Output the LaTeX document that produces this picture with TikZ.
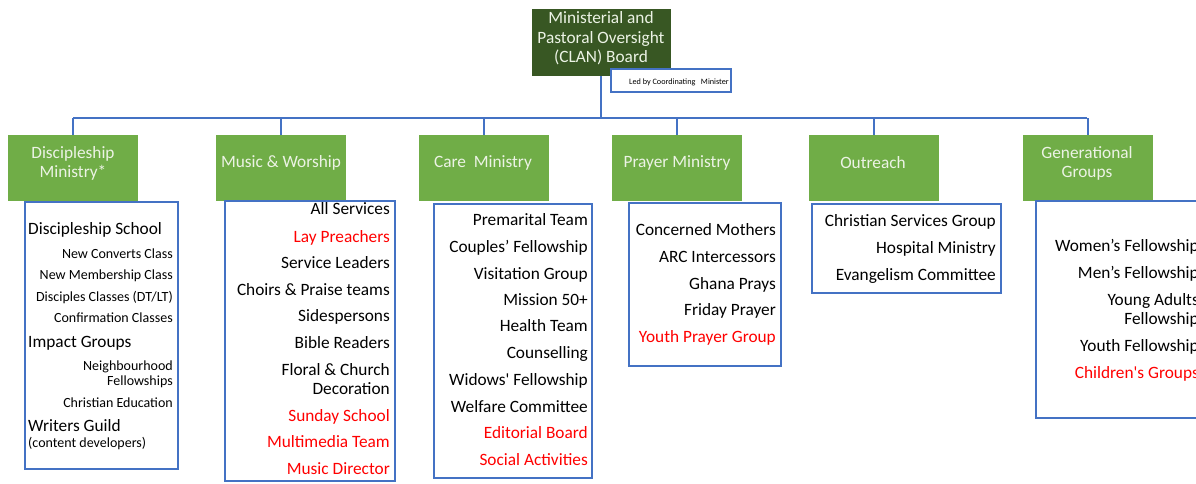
\documentclass[tikz,border=0pt]{standalone}
\usepackage{fontspec}
\setmainfont{Carlito}
\usepackage{tikz}
\usetikzlibrary{positioning}
\usetikzlibrary{calc}

\definecolor{boardgreen}{RGB}{56,87,35}
\definecolor{hdrgreen}{RGB}{112,173,71}
\definecolor{hdrtext}{RGB}{236,243,229}
\definecolor{linkblue}{RGB}{68,114,196}
\definecolor{itemred}{RGB}{255,0,0}

\begin{document}
\begin{tikzpicture}[x=1pt,y=-1pt,
  hdr/.style={fill=hdrgreen, minimum width=130pt, minimum height=66pt, inner sep=0pt},
  hdrtxt/.style={text=hdrtext, align=center, inner sep=0pt, font=\fontsize{17.3}{19}\selectfont},
  listbox/.style={draw=linkblue, line width=1.5pt, fill=white, anchor=north west, inner sep=0pt},
  big/.style={inner sep=0pt, align=right, font=\fontsize{17.3}{19}\selectfont},
  small/.style={inner sep=0pt, align=right, font=\fontsize{14}{15}\selectfont},
  red/.style={text=itemred},
  link/.style={draw=linkblue, line width=2pt}]
\useasboundingbox (0,0) rectangle (1196,483);

% board
\node (board) [fill=boardgreen, minimum width=139pt, minimum height=67pt, inner sep=0pt] at (601.5,42.5) {};
\node (boardtxt) [hdrtxt] at (601,38.5) {Ministerial and\\[0.5pt]Pastoral Oversight\\[0.5pt](CLAN) Board};
\node (led) [draw=linkblue, line width=1.5pt, fill=white, minimum width=120pt, minimum height=23pt, inner sep=0pt] at (671,80.5) {};
\node (ledtxt) [anchor=base east, inner sep=0pt, font=\fontsize{8.2}{9}\selectfont] at (729,84) {Led by Coordinating\ \ \ Minister};

% headers
\node (dis) [hdr] at (73,168) {};
\node (mus) [hdr, right=78pt of dis] {};
\node (car) [hdr, right=72pt of mus] {};
\node (pra) [hdr, right=63pt of car] {};
\node (out) [hdr, right=66pt of pra] {};
\node (gen) [hdr, right=84pt of out] {};

\node (distxt) [hdrtxt] at (73,163) {Discipleship\\Ministry*};
\node (mustxt) [hdrtxt] at (281,163) {Music \& Worship};
\node (cartxt) [hdrtxt] at (483,163) {Care\ \ Ministry};
\node (pratxt) [hdrtxt] at (677,163) {Prayer Ministry};
\node (outtxt) [hdrtxt] at (873,163) {Outreach};
\node (gentxt) [hdrtxt] at (1087,163) {Generational\\Groups};

% connectors
\coordinate (busL) at (73,118);
\coordinate (busR) at (1087,118);
\draw[link] (board.south -| 601,0) -- (601,118);
\draw[link] (busL) -- (busR);
\draw[link] (dis.north) -- (dis.north |- busL);
\draw[link] (mus.north) -- (mus.north |- busL);
\draw[link] (car.north) -- (car.north |- busL);
\draw[link] (pra.north) -- (pra.north |- busL);
\draw[link] (out.north) -- (out.north |- busL);
\draw[link] (gen.north) -- (gen.north |- busL);

% boxes
\node (disbox) [listbox, minimum width=153pt, minimum height=267pt] at (24,201) {};
\node (musbox) [listbox, minimum width=170pt, minimum height=280pt] at (224,200) {};
\node (carbox) [listbox, minimum width=158pt, minimum height=274pt] at (433,203) {};
\node (prabox) [listbox, minimum width=152pt, minimum height=163pt] at (628,202) {};
\node (outbox) [listbox, minimum width=189pt, minimum height=89pt] at (811,203) {};
\node (genbox) [listbox, minimum width=200pt, minimum height=217pt] at (1035,200) {};

% discipleship ministry
\node (d1) [big, anchor=base west] at (28,234) {Discipleship School};
\node (d2) [small, anchor=base east] at (173,258) {New Converts Class};
\node (d3) [small, anchor=base east] at (173,279) {New Membership Class};
\node (d4) [small, anchor=base east] at (173,301) {Disciples Classes (DT/LT)};
\node (d5) [small, anchor=base east] at (173,322) {Confirmation Classes};
\node (d6) [big, anchor=base west] at (28,347) {Impact Groups};
\node (d7) [small, anchor=base east] at (173,385) {Neighbourhood\\Fellowships};
\node (d8) [small, anchor=base east] at (173,407) {Christian Education};
\node (d9) [big, anchor=base west] at (28,431) {Writers Guild};
\node (d10) [small, anchor=base west] at (28,447) {(content developers)};

% music and worship
\node (m1) [big, anchor=base east] at (390,214) {All Services};
\node (m2) [big, red, anchor=base east] at (390,242) {Lay Preachers};
\node (m3) [big, anchor=base east] at (390,268) {Service Leaders};
\node (m4) [big, anchor=base east] at (390,295) {Choirs \& Praise teams};
\node (m5) [big, anchor=base east] at (390,321) {Sidespersons};
\node (m6) [big, anchor=base east] at (390,348) {Bible Readers};
\node (m7) [big, anchor=base east] at (390,394) {Floral \& Church\\Decoration};
\node (m8) [big, red, anchor=base east] at (390,421) {Sunday School};
\node (m9) [big, red, anchor=base east] at (390,447) {Multimedia Team};
\node (m10) [big, red, anchor=base east] at (390,474) {Music Director};

% care ministry
\node (c1) [big, anchor=base east] at (588,225) {Premarital Team};
\node (c2) [big, anchor=base east] at (588,252) {Couples’ Fellowship};
\node (c3) [big, anchor=base east] at (588,279) {Visitation Group};
\node (c4) [big, anchor=base east] at (588,305) {Mission 50+};
\node (c5) [big, anchor=base east] at (588,331) {Health Team};
\node (c6) [big, anchor=base east] at (588,358) {Counselling};
\node (c7) [big, anchor=base east] at (588,385) {Widows\textquotesingle\ Fellowship};
\node (c8) [big, anchor=base east] at (588,412) {Welfare Committee};
\node (c9) [big, red, anchor=base east] at (588,438) {Editorial Board};
\node (c10) [big, red, anchor=base east] at (588,465) {Social Activities};

% prayer ministry
\node (p1) [big, anchor=base east] at (776,235) {Concerned Mothers};
\node (p2) [big, anchor=base east] at (776,262) {ARC Intercessors};
\node (p3) [big, anchor=base east] at (776,289) {Ghana Prays};
\node (p4) [big, anchor=base east] at (776,315) {Friday Prayer};
\node (p5) [big, red, anchor=base east] at (776,342) {Youth Prayer Group};

% outreach
\node (o1) [big, anchor=base east] at (996,226) {Christian Services Group};
\node (o2) [big, anchor=base east] at (996,253) {Hospital Ministry};
\node (o3) [big, anchor=base east] at (996,280) {Evangelism Committee};

% generational groups
\node (g1) [big, anchor=base east] at (1199,251) {Women’s Fellowship};
\node (g2) [big, anchor=base east] at (1199,278) {Men’s Fellowship};
\node (g3) [big, anchor=base east] at (1199,324) {Young Adults\\Fellowship};
\node (g4) [big, anchor=base east] at (1199,351) {Youth Fellowship};
\node (g5) [big, red, anchor=base east] at (1199,378) {Children\textquotesingle s Groups};
\end{tikzpicture}
\end{document}
